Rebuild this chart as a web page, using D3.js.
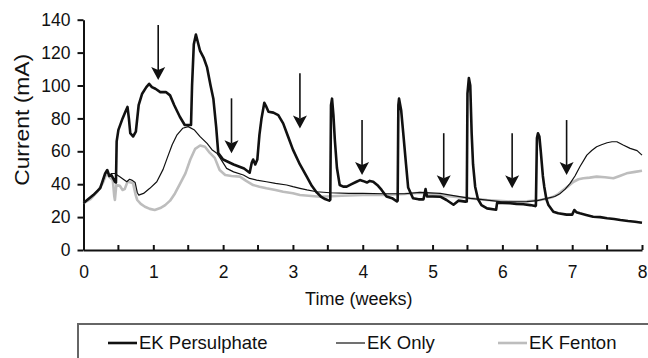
<!DOCTYPE html>
<html>
<head>
<meta charset="utf-8">
<script src="https://cdn.jsdelivr.net/npm/d3@7"></script>
<style>
    body { margin: 0; background: #fff; }
    svg { display: block; }
    text { font-family: "Liberation Sans", Arial, sans-serif; fill: #111; }
    .axis path, .axis line { stroke: #111; stroke-width: 2; }
    .axis text { font-size: 17.5px; }
    .persulphate-line { fill: none; stroke: #111; stroke-width: 2.6; stroke-linejoin: round; }
    .only-line { fill: none; stroke: #111; stroke-width: 1.2; stroke-linejoin: round; }
    .fenton-line { fill: none; stroke: #bdbdbd; stroke-width: 2.6; stroke-linejoin: round; }
    .arrow-shaft { stroke: #111; stroke-width: 1.6; }
    .arrow-head { fill: #111; }
    .legend-box { fill: #fff; stroke: #666; stroke-width: 2; }
    .legend-text { font-size: 18.5px; }
</style>
</head>
<body>
<div id="chart"></div>
<script>

// [week, mA]
var persulphate = [
    [0,28.5],[0.14,33.4],[0.24,37.6],[0.31,46.6],[0.34,48.6],[0.37,45],[0.4,45.5],[0.45,41.5],[0.465,41],
    [0.475,66],[0.5,73],[0.56,80],[0.6,84],[0.63,87],[0.65,80],[0.67,71],[0.71,69],[0.75,72],[0.79,88],
    [0.84,95],[0.9,99],[0.94,101],[0.98,99],[1.03,98],[1.1,96],[1.18,96],[1.24,94],[1.3,88],[1.38,81],
    [1.45,76],[1.54,76],[1.555,100],[1.58,125],[1.61,131],[1.64,126],[1.67,121],[1.72,117],[1.77,111],
    [1.82,100],[1.86,92],[1.9,75],[1.93,59],[2.0,55],[2.15,52],[2.3,49.5],[2.38,47],[2.41,53],[2.43,55],
    [2.46,52],[2.49,55],[2.52,70],[2.55,80],[2.59,89.5],[2.62,87],[2.65,84],[2.72,83.5],[2.79,82],
    [2.86,77],[2.93,69],[3.0,61],[3.1,52],[3.2,44.5],[3.27,39],[3.34,35],[3.4,32.5],[3.46,31],[3.52,30],
    [3.535,30.5],[3.545,88],[3.56,92],[3.58,82],[3.6,67],[3.63,50],[3.67,39.5],[3.72,38.5],[3.77,38.5],
    [3.84,40],[3.91,41.5],[3.96,42.5],[4.0,42],[4.06,41],[4.1,42],[4.15,41.5],[4.22,39],[4.27,36.5],
    [4.34,32.5],[4.42,31.5],[4.49,29.5],[4.5,30],[4.51,88],[4.52,92],[4.55,85],[4.58,71],[4.62,52],
    [4.65,38],[4.72,31.5],[4.8,30.8],[4.87,30.8],[4.9,37],[4.92,32.5],[5.0,32.5],[5.11,32.4],[5.2,30.4],
    [5.3,27.5],[5.37,30],[5.47,29.4],[5.49,29.5],[5.5,95],[5.52,104.5],[5.54,100],[5.56,71],[5.58,52],
    [5.61,38.5],[5.65,31],[5.7,27.3],[5.78,25.3],[5.91,24.5],[5.925,28.8],[6.0,28.6],[6.11,28.4],[6.2,28],
    [6.3,27.8],[6.4,27.3],[6.47,26.7],[6.48,27],[6.495,68],[6.51,71],[6.53,69],[6.55,60],[6.58,45],
    [6.6,38.5],[6.63,31],[6.66,27.3],[6.73,23.3],[6.8,22.3],[6.92,21.5],[7.0,21.5],[7.03,24.3],[7.06,23],
    [7.11,22.3],[7.2,21.3],[7.3,20.2],[7.4,20],[7.5,19.3],[7.6,18.8],[7.69,18.2],[7.8,17.6],[7.9,17.2],[8.0,16.6]
]

var ekOnly = [
    [0,28.5],[0.14,33.4],[0.24,37.6],[0.31,46],[0.34,48],[0.37,45],[0.4,46.5],[0.45,46.5],[0.52,44.5],
    [0.57,43],[0.62,41.5],[0.66,43],[0.69,42.5],[0.74,41],[0.77,35],[0.79,33.4],[0.86,34.4],[0.95,37.5],
    [1.05,41.5],[1.14,49],[1.2,56],[1.27,64],[1.34,70],[1.42,74],[1.5,75],[1.59,72.9],[1.67,68.9],
    [1.77,64.8],[1.84,61],[1.91,58.8],[1.96,55.7],[2.05,49.6],[2.15,47.5],[2.29,45.6],[2.38,43.5],
    [2.48,42.5],[2.62,41.5],[2.75,40.5],[2.91,39.5],[3.0,38.5],[3.1,37.5],[3.2,36.5],[3.34,35.4],
    [3.53,34.8],[3.8,34.4],[4.0,34.4],[4.3,34.2],[4.6,34.2],[4.82,35],[5.11,34.4],[5.3,33],[5.54,31.4],
    [5.75,30.5],[5.97,29.4],[6.15,29.2],[6.35,29.4],[6.5,30],[6.64,31.4],[6.75,32.5],[6.83,34.4],
    [6.9,37],[6.97,40.5],[7.04,45],[7.11,50.6],[7.21,57.7],[7.28,60.5],[7.35,62.8],[7.42,64],[7.5,65.2],
    [7.57,65.8],[7.64,65.8],[7.73,63.8],[7.83,61.8],[7.93,60.4],[8.0,57.7]
]

var fenton = [
    [0,28.5],[0.1,31],[0.2,35.5],[0.28,41],[0.33,46.5],[0.38,44],[0.42,42.5],[0.44,33],[0.45,30.4],
    [0.47,39.5],[0.52,39],[0.56,36.5],[0.59,37],[0.63,41.5],[0.68,41],[0.71,40.5],[0.75,33],[0.77,30.4],
    [0.82,28],[0.88,26.3],[0.95,25],[1.02,24.3],[1.1,25.5],[1.17,27.3],[1.24,30],[1.31,34.4],[1.38,40],
    [1.46,46.6],[1.53,55],[1.6,61.5],[1.67,63.5],[1.74,62.8],[1.81,59],[1.88,56],[1.95,48.6],[2.03,45.6],
    [2.12,45],[2.24,44.6],[2.33,42],[2.43,39.5],[2.52,38.5],[2.62,37.5],[2.75,36.5],[2.86,35.4],[3.0,34.5],
    [3.1,33.4],[3.39,32.4],[3.7,33],[4.0,33.4],[4.3,33.4],[4.6,34],[4.82,34.8],[5.05,33.5],[5.3,32.4],
    [5.55,31.4],[5.78,30.4],[6.0,29.8],[6.16,29.4],[6.35,29.6],[6.54,30.4],[6.65,31.3],[6.73,32.4],
    [6.8,34],[6.87,36.5],[6.95,39],[7.02,41.5],[7.09,43],[7.16,43.6],[7.25,44],[7.35,44.6],[7.47,44.2],
    [7.59,43.6],[7.68,45],[7.78,46.6],[7.9,47.5],[8.0,48.2]
]

// arrows: week, top (mA), tip (mA)
var arrows = [
    [1.07,136.8,103.3],[2.12,92.2,58.8],[3.1,107.4,73.9],[3.99,79,45.6],
    [5.16,71,37.5],[6.14,71,37.5],[6.92,79,45.6]
]

var xTicks = [0,1,2,3,4,5,6,7,8]
var xMinorTicks = [0.5,1.5,2.5,3.5,4.5,5.5,6.5,7.5]
var yTicks = [0,20,40,60,80,100,120,140]

var legendItems = [
    {name: "EK Persulphate", cls: "persulphate-line", x: 108},
    {name: "EK Only", cls: "only-line", x: 336},
    {name: "EK Fenton", cls: "fenton-line", x: 498}
]

var W = 648, H = 358
var margin = {left: 83.5, right: 6, top: 19.7, bottom: 108}
var width = W - margin.left - margin.right,
    height = H - margin.top - margin.bottom

var svg = d3.select("#chart")
    .append("svg")
        .attr("width", W)
        .attr("height", H)

var g = svg.append("g")
    .attr("transform", "translate(" + margin.left + "," + margin.top + ")")

var x = d3.scaleLinear().domain([0, 8]).range([0, width])
var y = d3.scaleLinear().domain([0, 140]).range([height, 0])

// x axis: labels on whole weeks, small inward ticks every half week
var xAxis = g.append("g")
    .attr("class", "axis axis--x")
    .attr("transform", "translate(0," + height + ")")
    .call(d3.axisBottom(x).tickValues(xTicks).tickSizeInner(-5).tickSizeOuter(0).tickPadding(16))

xAxis.selectAll(".tick text").attr("dy", "0.71em")

xAxis.selectAll(".minor")
    .data(xMinorTicks)
    .enter()
    .append("line")
    .attr("class", "minor")
    .attr("x1", d => x(d))
    .attr("x2", d => x(d))
    .attr("y1", 0)
    .attr("y2", -5)

var yAxis = g.append("g")
    .attr("class", "axis axis--y")
    .call(d3.axisLeft(y).tickValues(yTicks).tickSizeInner(6).tickSizeOuter(0).tickPadding(7))

g.append("text")
    .attr("x", width / 2 - 4)
    .attr("y", height + 55)
    .attr("text-anchor", "middle")
    .attr("font-size", "18px")
    .text("Time (weeks)")

g.append("text")
    .attr("transform", "rotate(-90)")
    .attr("x", -height / 2 + 15)
    .attr("y", -margin.left + 29)
    .attr("text-anchor", "middle")
    .attr("font-size", "19.5px")
    .attr("textLength", 132)
    .attr("lengthAdjust", "spacingAndGlyphs")
    .text("Current (mA)")

var line = d3.line()
    .x(d => x(d[0]))
    .y(d => y(d[1]))

g.append("path").datum(fenton).attr("class", "fenton-line").attr("d", line)
g.append("path").datum(ekOnly).attr("class", "only-line").attr("d", line)
g.append("path").datum(persulphate).attr("class", "persulphate-line").attr("d", line)

// arrows
var headH = 13, headW = 7, notch = 3
var arrowG = g.selectAll(".arrow")
    .data(arrows)
    .enter()
    .append("g")
    .attr("class", "arrow")

arrowG.append("line")
    .attr("class", "arrow-shaft")
    .attr("x1", d => x(d[0]))
    .attr("x2", d => x(d[0]))
    .attr("y1", d => y(d[1]))
    .attr("y2", d => y(d[2]) - headH + notch)

arrowG.append("path")
    .attr("class", "arrow-head")
    .attr("d", function(d){
        var cx = x(d[0]), ty = y(d[2])
        return "M" + cx + "," + ty +
            "L" + (cx - headW) + "," + (ty - headH) +
            "L" + cx + "," + (ty - headH + notch) +
            "L" + (cx + headW) + "," + (ty - headH) + "Z"
    })

// legend box runs off the right and bottom edges
var legend = svg.append("g")
    .attr("transform", "translate(78,324)")

legend.append("rect")
    .attr("class", "legend-box")
    .attr("width", 600)
    .attr("height", 60)

var legItem = legend.selectAll(".leg-item")
    .data(legendItems)
    .enter()
    .append("g")
    .attr("class", "leg-item")
    .attr("transform", d => "translate(" + (d.x - 78) + ",19)")

legItem.append("line")
    .attr("class", d => d.cls)
    .attr("x1", 0)
    .attr("x2", 29)
    .attr("y1", 0)
    .attr("y2", 0)

legItem.append("text")
    .attr("class", "legend-text")
    .attr("x", 31)
    .attr("y", 0)
    .attr("dy", "0.35em")
    .text(d => d.name)

</script>
</body>
</html>
